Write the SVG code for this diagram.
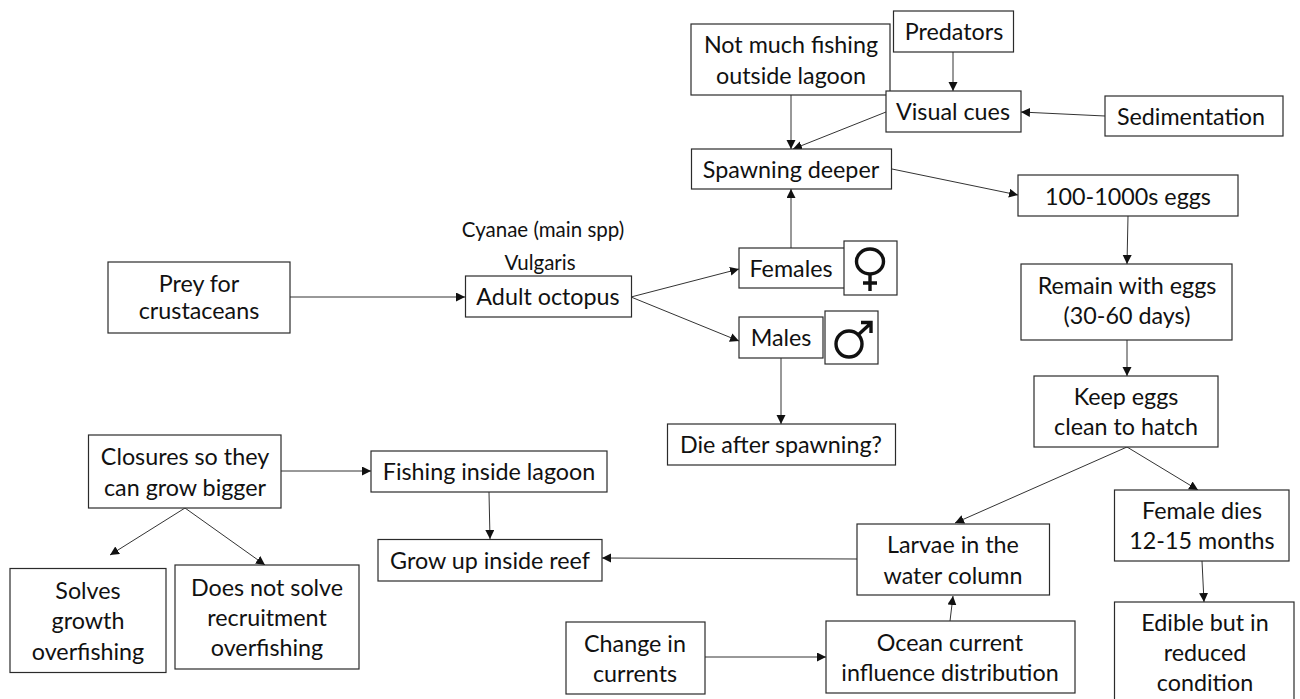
<svg xmlns="http://www.w3.org/2000/svg" width="1300" height="699" viewBox="0 0 1300 699">
<style>
.b{fill:#fff;stroke:#2b2b2b;stroke-width:1.2}
.t{font-family:"Lato","Open Sans",sans-serif;font-size:23.3px;fill:#111;text-anchor:middle}
.s{font-size:20.5px}
.c line{stroke:#333;stroke-width:1;marker-end:url(#a)}
.i{fill:none;stroke:#111;stroke-width:3.4}
</style>
<defs><marker id="a" markerUnits="userSpaceOnUse" markerWidth="11" markerHeight="10" refX="9" refY="4.5" orient="auto"><path d="M0 0L9 4.5L0 9Z" fill="#111"/></marker></defs>
<rect width="1300" height="699" fill="#fff"/>
<g id="connectors" class="c">
<line x1="953" y1="52" x2="953" y2="91"/>
<line x1="791" y1="95" x2="791" y2="149"/>
<line x1="886" y1="112" x2="793" y2="149"/>
<line x1="1105" y1="116" x2="1021" y2="112"/>
<line x1="892" y1="169" x2="1018" y2="195"/>
<line x1="1128" y1="216" x2="1127" y2="264"/>
<line x1="1127" y1="340" x2="1127" y2="376"/>
<line x1="1127" y1="447" x2="955" y2="523"/>
<line x1="1127" y1="447" x2="1198" y2="490"/>
<line x1="1202" y1="561" x2="1204" y2="602"/>
<line x1="857" y1="559" x2="602" y2="558"/>
<line x1="950" y1="621" x2="953" y2="596"/>
<line x1="705" y1="657" x2="826" y2="657"/>
<line x1="489" y1="492" x2="490" y2="539"/>
<line x1="281" y1="471" x2="371" y2="471"/>
<line x1="185" y1="508" x2="110" y2="555"/>
<line x1="185" y1="508" x2="265" y2="565"/>
<line x1="290" y1="297" x2="465" y2="297"/>
<line x1="631" y1="297" x2="739" y2="269"/>
<line x1="631" y1="297" x2="739" y2="341"/>
<line x1="791" y1="248" x2="791" y2="189"/>
<line x1="781" y1="358" x2="781" y2="424"/>
</g>
<g id="prey"><rect class="b" x="108" y="262" width="182" height="71"/><text class="t" x="199" y="292">Prey for</text><text class="t" x="199" y="319">crustaceans</text></g>
<g id="adult"><rect class="b" x="465.500" y="276" width="166" height="41"/><text class="t" x="548" y="305">Adult octopus</text></g>
<g id="cyanae"><text class="t s" x="543" y="237">Cyanae (main spp)</text></g>
<g id="vulgaris"><text class="t s" x="540" y="270">Vulgaris</text></g>
<g id="females"><rect class="b" x="739" y="248" width="106" height="40"/><text class="t" x="791" y="277">Females</text></g>
<g id="female-icon"><rect class="b" x="844" y="241" width="53" height="54"/><ellipse class="i" cx="870" cy="261.500" rx="13.500" ry="12.500"/><path class="i" d="M870 274V291M863 283H877"/></g>
<g id="males"><rect class="b" x="739" y="317" width="84" height="41"/><text class="t" x="781" y="346">Males</text></g>
<g id="male-icon"><rect class="b" x="825" y="311" width="53" height="53"/><circle class="i" cx="849" cy="344" r="13"/><path class="i" d="M858 335L870 324M861 322.500H871V333"/></g>
<g id="die"><rect class="b" x="667.500" y="424" width="228" height="41"/><text class="t" x="781" y="453">Die after spawning?</text></g>
<g id="notmuch"><rect class="b" x="691" y="24" width="199" height="71"/><text class="t" x="791" y="53">Not much fishing</text><text class="t" x="791" y="84">outside lagoon</text></g>
<g id="predators"><rect class="b" x="893.500" y="11" width="120" height="41"/><text class="t" x="954" y="40">Predators</text></g>
<g id="visual"><rect class="b" x="886" y="91" width="135" height="41"/><text class="t" x="953" y="120">Visual cues</text></g>
<g id="sedimentation"><rect class="b" x="1105" y="96" width="178" height="40"/><text class="t" x="1191" y="125">Sedimentation</text></g>
<g id="spawning"><rect class="b" x="691.500" y="149" width="200" height="40"/><text class="t" x="791" y="178">Spawning deeper</text></g>
<g id="eggs"><rect class="b" x="1018" y="175" width="220" height="41"/><text class="t" x="1128" y="205">100-1000s eggs</text></g>
<g id="remain"><rect class="b" x="1021" y="264" width="211" height="76"/><text class="t" x="1127" y="294">Remain with eggs</text><text class="t" x="1127" y="324">(30-60 days)</text></g>
<g id="keep"><rect class="b" x="1034" y="376" width="184" height="71"/><text class="t" x="1126" y="405">Keep eggs</text><text class="t" x="1126" y="435">clean to hatch</text></g>
<g id="femaledies"><rect class="b" x="1114.500" y="490" width="174.500" height="71"/><text class="t" x="1202" y="519">Female dies</text><text class="t" x="1202" y="549">12-15 months</text></g>
<g id="edible"><rect class="b" x="1114.500" y="602" width="179.500" height="110"/><text class="t" x="1205" y="631">Edible but in</text><text class="t" x="1205" y="661">reduced</text><text class="t" x="1205" y="691">condition</text></g>
<g id="larvae"><rect class="b" x="857" y="524" width="192.500" height="71"/><text class="t" x="953" y="553">Larvae in the</text><text class="t" x="953" y="584">water column</text></g>
<g id="ocean"><rect class="b" x="826" y="621" width="249" height="72"/><text class="t" x="950" y="651">Ocean current</text><text class="t" x="950" y="681">influence distribution</text></g>
<g id="change"><rect class="b" x="566" y="622" width="139" height="72"/><text class="t" x="635" y="652">Change in</text><text class="t" x="635" y="682">currents</text></g>
<g id="grow"><rect class="b" x="378" y="539.500" width="224" height="41.500"/><text class="t" x="490" y="569">Grow up inside reef</text></g>
<g id="fishing"><rect class="b" x="371" y="451" width="236" height="41"/><text class="t" x="489" y="480">Fishing inside lagoon</text></g>
<g id="closures"><rect class="b" x="88.500" y="435" width="192.500" height="73"/><text class="t" x="185" y="465">Closures so they</text><text class="t" x="185" y="496">can grow bigger</text></g>
<g id="solves"><rect class="b" x="10" y="568.500" width="156" height="104"/><text class="t" x="88" y="599">Solves</text><text class="t" x="88" y="629">growth</text><text class="t" x="88" y="660">overfishing</text></g>
<g id="doesnot"><rect class="b" x="175" y="565" width="184" height="104"/><text class="t" x="267" y="596">Does not solve</text><text class="t" x="267" y="626">recruitment</text><text class="t" x="267" y="656">overfishing</text></g>
</svg>
